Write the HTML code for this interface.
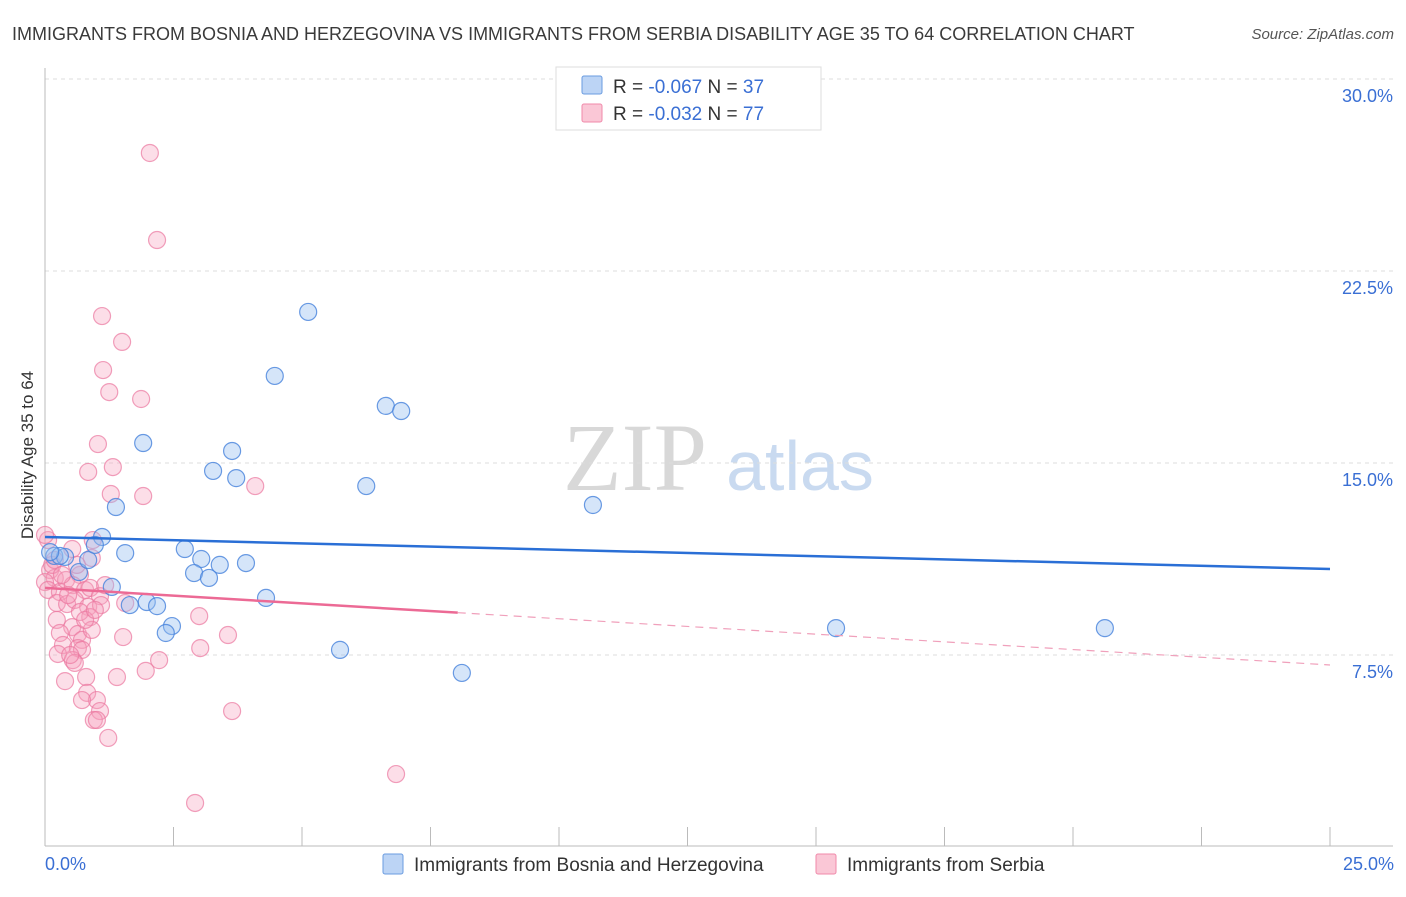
<!DOCTYPE html>
<html><head><meta charset="utf-8"><style>
body{margin:0;background:#fff;font-family:"Liberation Sans",sans-serif;}
</style></head><body>
<svg width="1406" height="892" viewBox="0 0 1406 892" xmlns="http://www.w3.org/2000/svg" font-family="Liberation Sans, sans-serif">
<text x="12" y="40" font-size="18" fill="#3a3a3a">IMMIGRANTS FROM BOSNIA AND HERZEGOVINA VS IMMIGRANTS FROM SERBIA DISABILITY AGE 35 TO 64 CORRELATION CHART</text>
<text x="1394" y="39" font-size="15" fill="#555" font-style="italic" text-anchor="end">Source: ZipAtlas.com</text>
<g>
<text x="635" y="490" font-size="96" font-family="Liberation Serif, serif" fill="#d8d8d8" text-anchor="middle">ZIP</text>
<text x="800" y="490" font-size="70" fill="#c9daf0" text-anchor="middle">atlas</text>
</g>
<g id="grid"></g>
<g id="axes"></g>
<g id="marks"></g>
<text x="33" y="455" font-size="17" fill="#333" text-anchor="middle" transform="rotate(-90 33 455)">Disability Age 35 to 64</text>
<text x="45" y="870" font-size="18" fill="#3a6fd4">0.0%</text>
<text x="1394" y="870" font-size="18" fill="#3a6fd4" text-anchor="end">25.0%</text>
<g>
<rect x="556" y="67" width="265" height="63" fill="#fff" stroke="#ddd"/>
<rect x="582" y="76" width="20" height="18" fill="#bcd4f5" stroke="#6a9be0" rx="2"/>
<rect x="582" y="104" width="20" height="18" fill="#fac7d6" stroke="#f08aaa" rx="2"/>
<text x="613" y="93" font-size="19" fill="#333">R = <tspan fill="#3a6fd4">-0.067</tspan>   N = <tspan fill="#3a6fd4">37</tspan></text>
<text x="613" y="120" font-size="19" fill="#333">R = <tspan fill="#3a6fd4">-0.032</tspan>   N = <tspan fill="#3a6fd4">77</tspan></text>
</g>
<g>
<rect x="383" y="854" width="20" height="20" fill="#bcd4f5" stroke="#6a9be0" rx="2"/>
<text x="414" y="871" font-size="19" fill="#333">Immigrants from Bosnia and Herzegovina</text>
<rect x="816" y="854" width="20" height="20" fill="#fac7d6" stroke="#f08aaa" rx="2"/>
<text x="847" y="871" font-size="19" fill="#333">Immigrants from Serbia</text>
</g>
</svg>
<script>
const yTicks=[7.5,15,22.5,30];
const yTickLabels=["7.5%","15.0%","22.5%","30.0%"];
const blueX=[5.12,4.47,6.63,6.93,1.91,3.64,3.27,3.72,6.25,10.66,1.38,1.11,0.18,0.39,1.56,2.72,3.04,3.40,3.91,0.66,2.90,3.19,1.30,4.30,1.98,1.65,2.18,2.47,2.35,15.39,20.62,5.74,8.11,0.29,0.84,0.97,0.10];
const blueY=[20.90,18.40,17.23,17.03,15.78,15.47,14.69,14.41,14.10,13.36,13.28,12.11,11.37,11.33,11.48,11.64,11.25,11.02,11.09,10.74,10.70,10.51,10.16,9.73,9.57,9.45,9.41,8.63,8.36,8.55,8.55,7.70,6.80,11.37,11.21,11.80,11.52];
const pinkX=[2.04,2.18,1.11,1.50,1.13,1.25,1.87,1.03,1.32,0.84,1.28,1.91,4.09,0.06,0.93,0.53,0.91,0.10,0.19,0.68,0.00,0.06,0.29,0.41,0.54,0.78,0.88,1.07,0.23,0.43,0.58,0.84,1.09,1.56,0.88,0.23,0.53,0.29,0.64,0.72,0.35,1.52,3.00,3.56,0.64,0.72,0.25,0.54,0.58,3.02,2.22,1.96,1.40,0.39,0.80,0.82,1.01,0.72,1.07,0.95,1.01,1.23,3.64,6.83,2.92,0.00,0.14,0.45,0.68,0.91,0.19,0.33,0.62,0.78,0.49,0.97,1.17];
const pinkY=[27.11,23.71,20.74,19.73,18.63,17.77,17.50,15.74,14.84,14.65,13.79,13.71,14.10,11.99,11.99,11.64,11.29,10.82,10.51,10.63,10.35,10.04,9.96,10.43,10.23,10.04,10.12,9.80,9.53,9.49,9.65,9.38,9.45,9.53,8.98,8.87,8.59,8.36,8.32,8.09,7.89,8.20,9.02,8.28,7.77,7.70,7.54,7.30,7.19,7.77,7.30,6.88,6.64,6.48,6.64,6.02,5.74,5.74,5.31,4.96,4.96,4.26,5.31,2.85,1.72,12.19,11.02,9.84,9.18,8.48,11.21,10.63,11.02,8.87,7.50,9.26,10.23];
const blueTrend=[12.11,10.86];
const pinkTrend=[10.12,7.11];
const pinkSolidEndX=8.03;

const NS="http://www.w3.org/2000/svg";
const xs=v=>45+v/25*1285;
const ys=v=>847-v/7.5*192;
function mk(t,a,p){const e=document.createElementNS(NS,t);for(const k in a)e.setAttribute(k,a[k]);p.appendChild(e);return e;}
const grid=document.getElementById('grid'),axes=document.getElementById('axes'),marks=document.getElementById('marks');
yTicks.forEach((t,i)=>{
 const l=mk('line',{x1:45,x2:1393,y1:ys(t),y2:ys(t),stroke:'#ddd','stroke-dasharray':'4,4'},grid);
 
 
 const tx=mk('text',{x:1393,y:ys(t)+23,'font-size':18,fill:'#3a6fd4','text-anchor':'end'},axes);
 tx.textContent=yTickLabels[i];
 
 
});
const ya=mk('line',{x1:45,x2:45,y1:68,y2:846,stroke:'#bbb'},axes);


const xa=mk('line',{x1:45,x2:1393,y1:846,y2:846,stroke:'#bbb'},axes);


for(let i=0;i<=10;i++){const v=i*2.5;
 const tk=mk('line',{x1:xs(v),x2:xs(v),y1:827,y2:846,stroke:'#bbb'},axes);
 
 }
pinkX.forEach((x,i)=>{
 const c=mk('circle',{cx:xs(x),cy:ys(pinkY[i]),r:8.5,fill:'rgba(245,160,190,0.35)',stroke:'rgba(235,120,160,0.7)','stroke-width':1.2},marks);
 
 
});
blueX.forEach((x,i)=>{
 const c=mk('circle',{cx:xs(x),cy:ys(blueY[i]),r:8.5,fill:'rgba(150,190,240,0.4)',stroke:'rgba(70,130,220,0.8)','stroke-width':1.2},marks);
 
 
});
const bt=mk('line',{x1:xs(0),y1:ys(blueTrend[0]),x2:xs(25),y2:ys(blueTrend[1]),stroke:'#2a6fd6','stroke-width':2.5},marks);


const pe=pinkTrend[0]+(pinkTrend[1]-pinkTrend[0])*pinkSolidEndX/25;
const pt=mk('line',{x1:xs(0),y1:ys(pinkTrend[0]),x2:xs(pinkSolidEndX),y2:ys(pe),stroke:'#ec6a95','stroke-width':2.5},marks);


const pd=mk('line',{x1:xs(pinkSolidEndX),y1:ys(pe),x2:xs(25),y2:ys(pinkTrend[1]),stroke:'#f0a0bb','stroke-width':1.2,'stroke-dasharray':'8,6'},marks);


</script>
</body></html>
